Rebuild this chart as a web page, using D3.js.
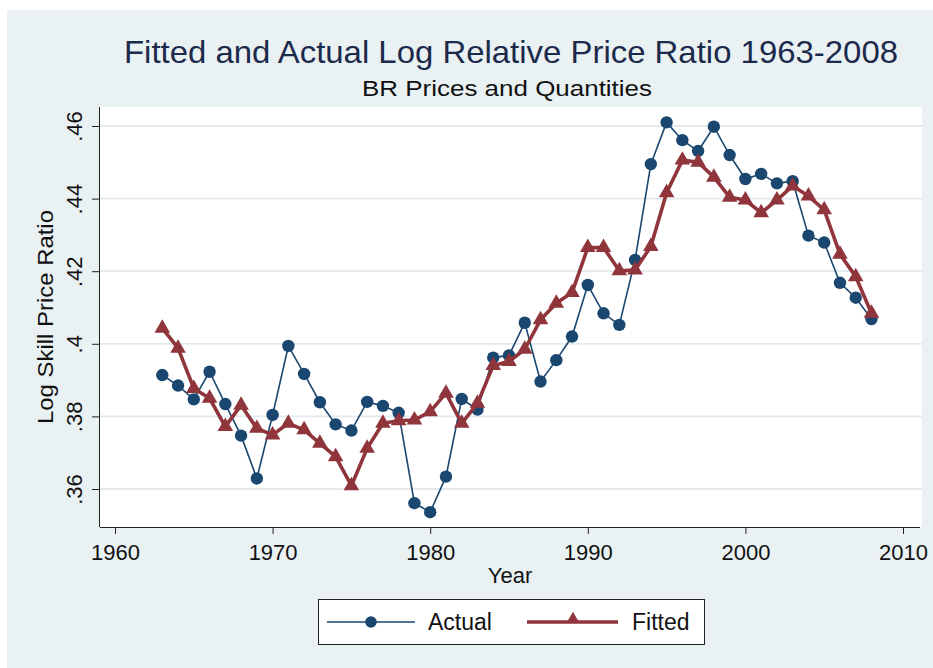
<!DOCTYPE html>
<html>
<head>
<meta charset="utf-8">
<script src="https://cdn.jsdelivr.net/npm/d3@7"></script>
<style>
  body { margin: 0; background: #ffffff; }
  svg text { font-family: "Liberation Sans", Arial, sans-serif; }
</style>
</head>
<body>
<div id="chart"></div>
<script>
// data
let years = [1963, 1964, 1965, 1966, 1967, 1968, 1969, 1970, 1971, 1972,
    1973, 1974, 1975, 1976, 1977, 1978, 1979, 1980, 1981, 1982,
    1983, 1984, 1985, 1986, 1987, 1988, 1989, 1990, 1991, 1992,
    1993, 1994, 1995, 1996, 1997, 1998, 1999, 2000, 2001, 2002,
    2003, 2004, 2005, 2006, 2007, 2008];

let actual = [0.3914, 0.3885, 0.3847, 0.3923, 0.3834, 0.3747, 0.3629, 0.3804, 0.3994, 0.3917,
    0.3839, 0.3778, 0.3761, 0.3840, 0.3829, 0.3810, 0.3561, 0.3536, 0.3634, 0.3848,
    0.3819, 0.3962, 0.3968, 0.4058, 0.3896, 0.3955, 0.4020, 0.4162, 0.4084, 0.4052,
    0.4231, 0.4495, 0.4610, 0.4561, 0.4531, 0.4598, 0.4520, 0.4454, 0.4468, 0.4442,
    0.4448, 0.4298, 0.4279, 0.4168, 0.4127, 0.4068];

let fitted = [0.4043, 0.3988, 0.3877, 0.3850, 0.3772, 0.3831, 0.3767, 0.3749, 0.3781, 0.3763,
    0.3726, 0.3689, 0.3609, 0.3712, 0.3781, 0.3788, 0.3790, 0.3813, 0.3864, 0.3781,
    0.3836, 0.3940, 0.3951, 0.3985, 0.4066, 0.4112, 0.4141, 0.4265, 0.4265, 0.4201,
    0.4203, 0.4268, 0.4416, 0.4506, 0.4500, 0.4459, 0.4404, 0.4396, 0.4361, 0.4396,
    0.4435, 0.4407, 0.4369, 0.4247, 0.4185, 0.4084];

let xTicks = [1960, 1970, 1980, 1990, 2000, 2010];
let yTicks = [0.36, 0.38, 0.40, 0.42, 0.44, 0.46];
let yTickLabels = [".36", ".38", ".4", ".42", ".44", ".46"];

let titleText = "Fitted and Actual Log Relative Price Ratio 1963-2008";
let subtitleText = "BR Prices and Quantities";

function drawChart() {
    let width = 933,
        height = 668;

    let navy = "#1a476f",
        maroon = "#90353b",
        bg = "#eaf1f3";

    // plot region
    let plot = { left: 100, top: 107, right: 922, bottom: 527 };

    let x = d3.scaleLinear().domain([1960, 2010]).range([115, 903]);
    let y = d3.scaleLinear().domain([0.36, 0.46]).range([489, 126]);

    let svg = d3.select("#chart")
        .append("svg")
        .attr("width", width)
        .attr("height", height);

    svg.append("rect")
        .attr("x", 0).attr("y", 0)
        .attr("width", width).attr("height", height)
        .attr("fill", "#ffffff");

    svg.append("rect")
        .attr("x", 7).attr("y", 10)
        .attr("width", width - 7).attr("height", height - 10)
        .attr("fill", bg);

    svg.append("rect")
        .attr("x", plot.left).attr("y", plot.top)
        .attr("width", plot.right - plot.left)
        .attr("height", plot.bottom - plot.top)
        .attr("fill", "#ffffff");

    // gridlines
    svg.append("g")
        .selectAll("line")
        .data(yTicks)
        .enter().append("line")
        .attr("x1", plot.left).attr("x2", plot.right)
        .attr("y1", d => y(d)).attr("y2", d => y(d))
        .attr("stroke", "#e2eaee")
        .attr("stroke-width", 1.8);

    // axes
    let xAxis = d3.axisBottom(x)
        .tickValues(xTicks)
        .tickFormat(d3.format("d"))
        .tickSize(7)
        .tickSizeOuter(0);

    let gx = svg.append("g")
        .attr("transform", "translate(0," + plot.bottom + ")")
        .call(xAxis);
    gx.select(".domain")
        .attr("d", "M" + plot.left + ",0.5H" + (plot.right - 2))
        .attr("stroke", "#222");
    gx.selectAll(".tick line").attr("stroke", "#222");
    gx.selectAll(".tick text")
        .attr("y", 33)
        .attr("dy", null)
        .attr("fill", "#111")
        .style("font-size", "22px");

    let yAxis = d3.axisLeft(y)
        .tickValues(yTicks)
        .tickFormat((d, i) => yTickLabels[i])
        .tickSize(8)
        .tickSizeOuter(0);

    let gy = svg.append("g")
        .attr("transform", "translate(" + plot.left + ",0)")
        .call(yAxis);
    gy.select(".domain")
        .attr("d", "M-0.5," + plot.top + "V" + plot.bottom)
        .attr("stroke", "#222");
    gy.selectAll(".tick line").attr("stroke", "#222");
    gy.selectAll(".tick text")
        .attr("x", null)
        .attr("dy", null)
        .attr("text-anchor", "middle")
        .attr("transform", "translate(-18,0) rotate(-90)")
        .attr("fill", "#111")
        .style("font-size", "22px");

    // titles
    svg.append("text")
        .attr("x", 124).attr("y", 63)
        .attr("textLength", 774)
        .attr("lengthAdjust", "spacingAndGlyphs")
        .attr("fill", "#1c2a4c")
        .style("font-size", "32px")
        .text(titleText);

    svg.append("text")
        .attr("x", 362).attr("y", 96)
        .attr("textLength", 290)
        .attr("lengthAdjust", "spacingAndGlyphs")
        .attr("fill", "#111")
        .style("font-size", "22px")
        .text(subtitleText);

    svg.append("text")
        .attr("transform", "translate(53," + ((plot.top + plot.bottom) / 2) + ") rotate(-90)")
        .attr("x", -107)
        .attr("textLength", 214)
        .attr("lengthAdjust", "spacingAndGlyphs")
        .attr("fill", "#111")
        .style("font-size", "22px")
        .text("Log Skill Price Ratio");

    svg.append("text")
        .attr("x", 510).attr("y", 583)
        .attr("text-anchor", "middle")
        .attr("fill", "#111")
        .style("font-size", "22px")
        .text("Year");

    // series
    let line = d3.line()
        .x((d, i) => x(years[i]))
        .y(d => y(d));

    svg.append("path")
        .datum(actual)
        .attr("d", line)
        .attr("fill", "none")
        .attr("stroke", navy)
        .attr("stroke-width", 1.6);

    svg.append("g")
        .selectAll("circle")
        .data(actual)
        .enter().append("circle")
        .attr("cx", (d, i) => x(years[i]))
        .attr("cy", d => y(d))
        .attr("r", 6.2)
        .attr("fill", navy);

    svg.append("path")
        .datum(fitted)
        .attr("d", line)
        .attr("fill", "none")
        .attr("stroke", maroon)
        .attr("stroke-width", 3.6)
        .attr("stroke-linejoin", "round");

    let tri = d3.symbol().type(d3.symbolTriangle).size(105);

    svg.append("g")
        .selectAll("path")
        .data(fitted)
        .enter().append("path")
        .attr("d", tri)
        .attr("transform", (d, i) => "translate(" + x(years[i]) + "," + y(d) + ")")
        .attr("fill", maroon);

    // legend
    let legend = svg.append("g");
    legend.append("rect")
        .attr("x", 318.5).attr("y", 599.5)
        .attr("width", 386).attr("height", 45)
        .attr("fill", "#ffffff")
        .attr("stroke", "#222")
        .attr("stroke-width", 1);

    legend.append("line")
        .attr("x1", 327).attr("x2", 415)
        .attr("y1", 622).attr("y2", 622)
        .attr("stroke", navy).attr("stroke-width", 1.6);
    legend.append("circle")
        .attr("cx", 371).attr("cy", 622).attr("r", 5.8)
        .attr("fill", navy);
    legend.append("text")
        .attr("x", 428).attr("y", 630)
        .attr("fill", "#111")
        .style("font-size", "23px")
        .text("Actual");

    legend.append("line")
        .attr("x1", 527).attr("x2", 618)
        .attr("y1", 622).attr("y2", 622)
        .attr("stroke", maroon).attr("stroke-width", 3.6);
    legend.append("path")
        .attr("d", d3.symbol().type(d3.symbolTriangle).size(70))
        .attr("transform", "translate(573,619)")
        .attr("fill", maroon);
    legend.append("text")
        .attr("x", 632).attr("y", 630)
        .attr("fill", "#111")
        .style("font-size", "23px")
        .text("Fitted");
}

document.addEventListener("DOMContentLoaded", drawChart);
</script>
</body>
</html>
